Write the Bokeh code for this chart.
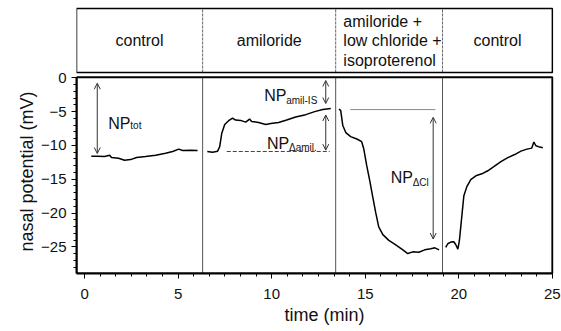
from bokeh.plotting import figure
from bokeh.models import (Range1d, SingleIntervalTicker, Arrow, OpenHead, Label,
                          BoxAnnotation, Title)
from bokeh.core.properties import value
from bokeh.embed import file_html
from bokeh.resources import INLINE

FONT = "Liberation Sans"

# ---- data (time in min, nasal potential in mV) ----
t1 = [0.36, 0.70, 1.07, 1.34, 1.44, 1.82, 2.14, 2.46, 2.78, 3.26, 3.80, 4.33, 4.71, 5.03, 5.24, 5.67, 6.04]
v1 = [-11.6, -11.6, -11.65, -11.45, -11.8, -11.9, -12.2, -12.1, -11.8, -11.65, -11.45, -11.15, -10.9, -10.55, -10.75, -10.7, -10.75]

t2 = [6.56, 6.84, 7.11, 7.22, 7.33, 7.49, 7.70, 7.91, 8.07, 8.34, 8.61, 8.82, 8.93, 9.30, 9.68, 9.95, 10.37, 10.80, 11.28, 11.82, 12.30, 12.73, 13.16]
v2 = [-10.9, -11.0, -10.85, -10.2, -8.25, -6.9, -6.35, -5.95, -6.25, -6.3, -6.55, -6.1, -6.45, -6.6, -6.9, -6.75, -6.6, -6.25, -5.8, -5.45, -5.0, -4.7, -4.55]

t3 = [13.60, 13.69, 13.80, 13.96, 14.22, 14.55, 14.81, 14.92, 15.08, 15.24, 15.40, 15.56, 15.72, 15.94, 16.26, 16.63, 17.01, 17.27, 17.54, 17.86, 18.18, 18.50, 18.72, 18.95]
v3 = [-4.6, -4.85, -7.05, -8.1, -8.7, -9.05, -9.45, -10.5, -13.0, -15.2, -17.6, -19.95, -22.05, -23.2, -24.05, -24.7, -25.45, -26.0, -25.75, -25.8, -25.45, -25.3, -25.15, -25.45]

t4 = [19.30, 19.41, 19.57, 19.73, 19.84, 19.95, 20.03, 20.11, 20.19, 20.27, 20.43, 20.64, 20.91, 21.23, 21.55, 21.87, 22.25, 22.62, 22.99, 23.32, 23.64, 23.90, 24.01, 24.12, 24.33, 24.49]
v4 = [-25.1, -24.55, -24.3, -24.25, -24.7, -25.35, -24.1, -21.9, -19.65, -17.45, -16.1, -15.05, -14.5, -14.2, -13.75, -13.15, -12.4, -11.8, -11.35, -10.85, -10.55, -10.4, -9.5, -10.05, -10.25, -10.35]

segments_t = [t1, t2, t3, t4]
segments_v = [v1, v2, v3, v4]

# phase boundaries (min) and header labels
boundaries = [6.31, 13.42, 19.13]
phase_labels = ["control", "amiloride", "amiloride +\nlow chloride +\nisoproterenol", "control"]
phase_label_x = [2.94, 9.87, 13.83, 22.07]
phase_label_align = ["center", "center", "left", "center"]

x_ticks = [0, 5, 10, 15, 20, 25]
y_ticks = [0, -5, -10, -15, -20, -25]

# axes limits (plot box) and layout zones (in mV units above the plot box for the header)
X_MIN, X_MAX = -0.43, 25.0
Y_MIN, Y_BOX_TOP = -28.95, 0.1
Y_FIG_TOP = 10.55
HDR_BOTTOM, HDR_TOP, HDR_TEXT_Y = 0.79, 10.25, 5.45

# annotation levels
amil_base = -10.9
amil_base_span = (7.6, 13.1)
cl_ref = -4.7
cl_ref_span = (14.2, 18.75)

p = figure(width=561, height=331, x_range=Range1d(X_MIN, X_MAX + 0.06),
           y_range=Range1d(Y_MIN, Y_FIG_TOP),
           output_backend="svg", toolbar_location=None,
           min_border_left=76, min_border_right=8, min_border_top=6, min_border_bottom=58)
p.grid.visible = False
p.outline_line_color = None
p.background_fill_color = "white"
p.border_fill_color = "white"

p.xaxis.ticker = SingleIntervalTicker(interval=5, num_minor_ticks=6)
p.yaxis.ticker = SingleIntervalTicker(interval=5, num_minor_ticks=5)
p.yaxis.bounds = (Y_MIN, Y_BOX_TOP)
p.xaxis.bounds = (X_MIN, X_MAX)
for ax in (p.xaxis[0], p.yaxis[0]):
    ax.axis_line_width = 2
    ax.axis_line_color = "black"
    ax.major_tick_out = 5
    ax.major_tick_in = 0
    ax.minor_tick_out = 3
    ax.minor_tick_in = 0
    ax.major_tick_line_color = "black"
    ax.minor_tick_line_color = "black"
    ax.major_label_text_font = FONT
    ax.major_label_text_font_size = "15px"
    ax.major_label_text_color = "#111111"
p.xaxis.major_label_standoff = 10
p.yaxis.major_label_standoff = 5

# axis titles (as side titles so they can be placed along the plot box)
p.add_layout(Title(text="nasal potential  (mV)", align="left", offset=22,
                   text_font=FONT, text_font_size="18px", text_font_style="normal",
                   text_color="#111111", standoff=4), "left")
p.add_layout(Title(text="time  (min)", align="left", offset=208,
                   text_font=FONT, text_font_size="18px", text_font_style="normal",
                   text_color="#111111", standoff=2), "below")

# plot box and header box
p.add_layout(BoxAnnotation(left=X_MIN, right=X_MAX, bottom=Y_MIN, top=Y_BOX_TOP,
                           fill_alpha=0, line_color="black", line_alpha=1,
                           line_width=2, level="overlay"))
p.add_layout(BoxAnnotation(left=X_MIN, right=X_MAX, bottom=HDR_BOTTOM, top=HDR_TOP,
                           fill_alpha=0, line_color="black", line_alpha=1,
                           line_width=1.5, level="overlay"))

# phase separators
p.segment(x0=boundaries, y0=[Y_MIN] * 3, x1=boundaries, y1=[Y_BOX_TOP] * 3,
          line_color="#555555", line_width=1)
p.segment(x0=boundaries, y0=[HDR_BOTTOM] * 3, x1=boundaries, y1=[HDR_TOP] * 3,
          line_color="#666666", line_width=1, line_dash="3 1")

for lab, lx, al in zip(phase_labels, phase_label_x, phase_label_align):
    p.text(x=[lx], y=[HDR_TEXT_Y], text=[lab], text_align=al, text_baseline="middle",
           text_font=value(FONT), text_font_size="16px", text_color="#111111",
           text_line_height=1.15)

for ts, vs in zip(segments_t, segments_v):
    p.line(ts, vs, line_color="black", line_width=1.5)

# reference lines
p.line(list(amil_base_span), [amil_base, amil_base], line_color="#444444",
       line_width=1, line_dash="4 2")
p.line(list(cl_ref_span), [cl_ref, cl_ref], line_color="#888888", line_width=1)

def dbl_arrow(x, y0, y1):
    p.add_layout(Arrow(start=OpenHead(size=6, line_width=1, line_color="#333333"),
                       end=OpenHead(size=6, line_width=1, line_color="#333333"),
                       x_start=x, y_start=y0, x_end=x, y_end=y1,
                       line_width=1, line_color="#333333"))

dbl_arrow(0.68, -0.8, -11.2)     # NP_tot
dbl_arrow(12.89, -0.4, -3.8)     # NP_amil-IS
dbl_arrow(12.89, -5.5, -10.7)    # NP_dAmil
dbl_arrow(18.63, -5.85, -23.85)  # NP_dCl

def np_label(x, y, sub, sub_dx=22, sub_dy=-5):
    p.add_layout(Label(x=x, y=y, text="NP", text_font=FONT, text_font_size="16px",
                       text_color="#111111", text_baseline="alphabetic"))
    p.add_layout(Label(x=x, y=y, x_offset=sub_dx, y_offset=sub_dy, text=sub,
                       text_font=FONT, text_font_size="10px", text_color="#111111",
                       text_baseline="alphabetic"))

np_label(1.27, -6.7, "tot", sub_dy=-2)
np_label(9.6, -2.6, "amil-IS", sub_dy=-5)
np_label(9.75, -9.7, "\u0394amil.", sub_dy=-4)
np_label(16.36, -14.75, "\u0394Cl", sub_dy=-5)

open("out.html", "w").write(file_html(p, INLINE))
